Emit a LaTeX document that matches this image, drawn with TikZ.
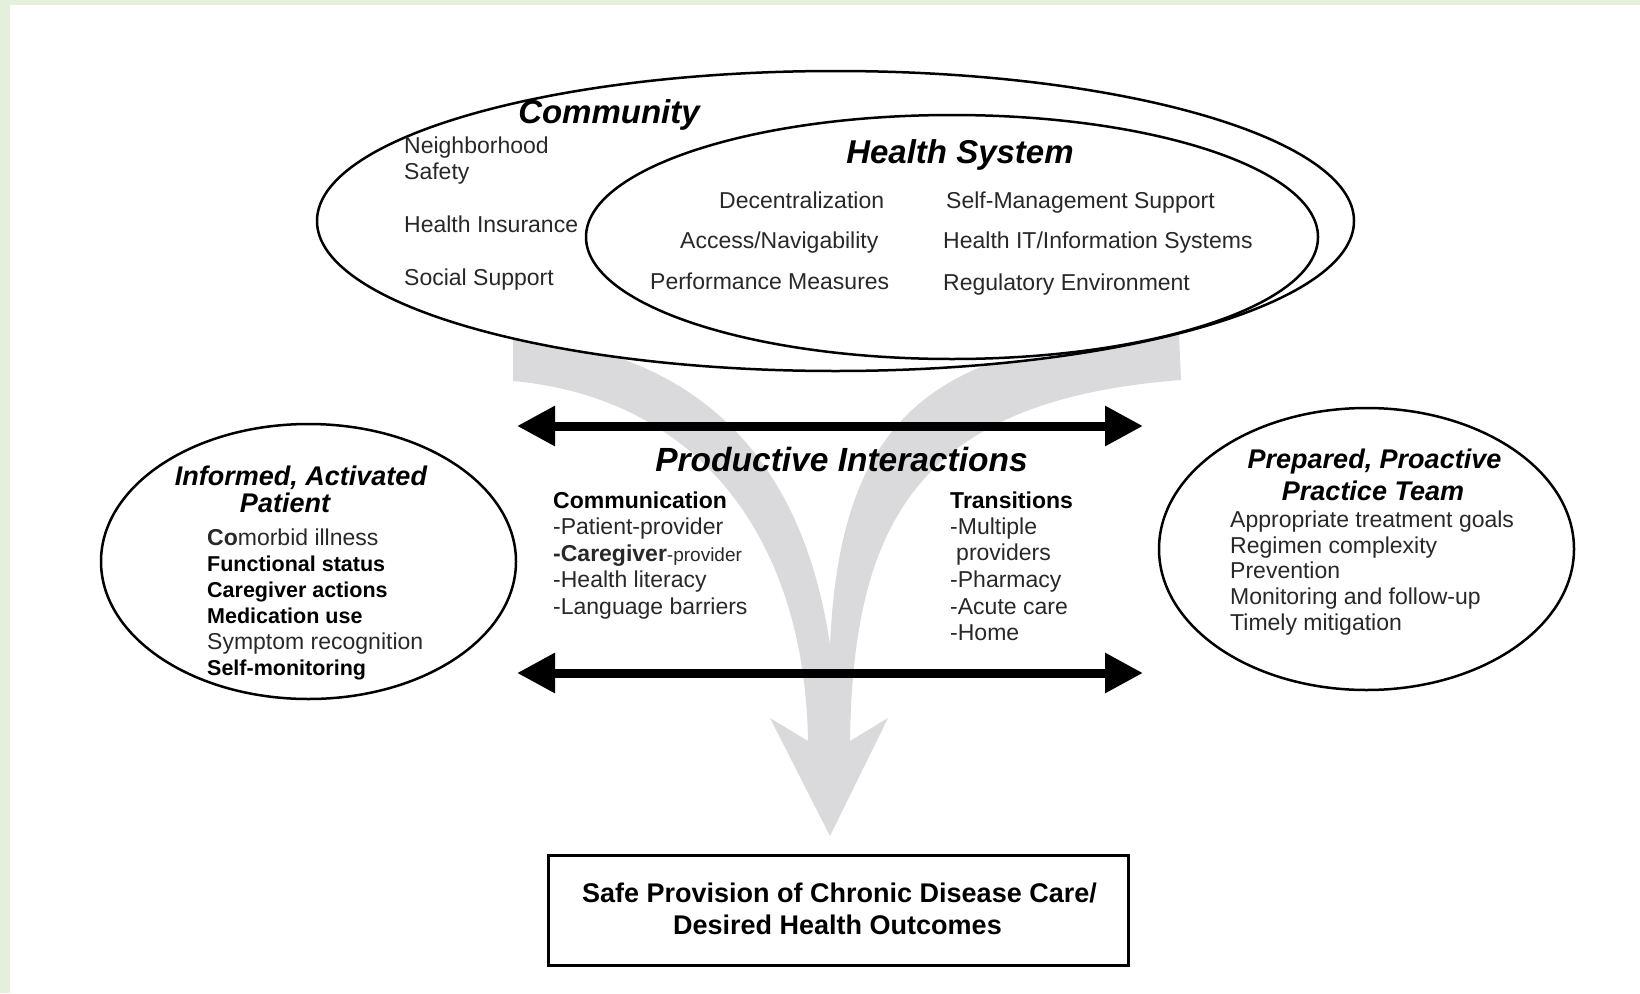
\documentclass[tikz,border=0pt]{standalone}
\usepackage{fontspec}
\setmainfont{Liberation Sans}
\usetikzlibrary{shapes.geometric,arrows.meta}

\definecolor{framegreen}{RGB}{229,240,220}
\definecolor{flowgrey}{RGB}{218,218,220}
\definecolor{itemgrey}{RGB}{40,40,40}

\tikzset{
  ring/.style={ellipse, draw=black, fill=white, line width=2.5pt, inner sep=0pt},
  heading/.style={anchor=base, inner sep=0pt, text=black,
    font=\bfseries\itshape\fontsize{33}{38}\selectfont},
  subheading/.style={anchor=base, inner sep=0pt, text=black,
    font=\bfseries\itshape\fontsize{27}{32}\selectfont},
  item/.style={anchor=base west, inner sep=0pt, text=itemgrey,
    font=\fontsize{23}{27}\selectfont},
  bolditem/.style={anchor=base west, inner sep=0pt, text=black,
    font=\bfseries\fontsize{21.5}{26}\selectfont},
  twoway/.style={line width=9pt,
    {Triangle[length=38pt,width=38pt]}-{Triangle[length=38pt,width=38pt]}},
  outcometext/.style={anchor=base, inner sep=0pt, text=black,
    font=\bfseries\fontsize{27}{32}\selectfont}
}

\begin{document}
\begin{tikzpicture}[x=1pt,y=-1pt]
\useasboundingbox (0,0) rectangle (1640,993);

% page background with a light green edge
\fill[framegreen] (0,0) rectangle (1640,993);
\fill[white] (10,5) rectangle (1640,993);

% grey converging flow arrow behind everything
\fill[flowgrey]
  (513,336) -- (513,381)
  .. controls (700,398) and (805,540) .. (808,741)
  -- (770,718) -- (830,836) -- (888,718) -- (850,741)
  .. controls (853,520) and (920,400) .. (1181,380)
  -- (1179,334)
  .. controls (930,340) and (840,420) .. (830,645)
  .. controls (800,440) and (680,350) .. (513,336)
  -- cycle;

% community and health system
\node[ring, minimum width=1037pt, minimum height=300pt] (community) at (835.5,221) {};
\node[ring, minimum width=732pt, minimum height=244pt] (health) at (952,237) {};

\node[heading] (communityTitle) at (609,123) {Community};
\node[item] (cNeigh) at (404,153) {Neighborhood};
\node[item] (cSafety) at (404,179) {Safety};
\node[item] (cInsur) at (404,232) {Health Insurance};
\node[item] (cSocial) at (404,285) {Social Support};

\node[heading] (healthTitle) at (960,163) {Health System};
\node[item] (hDecent) at (719,208) {Decentralization};
\node[item] (hAccess) at (680,248) {Access/Navigability};
\node[item] (hPerf) at (650,289) {Performance Measures};
\node[item] (hSelf) at (946,208) {Self-Management Support};
\node[item] (hIT) at (943,248) {Health IT/Information Systems};
\node[item] (hReg) at (943,290) {Regulatory Environment};

% patient and practice team
\node[ring, minimum width=415pt, minimum height=275pt] (patient) at (308.5,561.5) {};
\node[ring, minimum width=415pt, minimum height=282pt] (team) at (1366.5,549) {};

\node[subheading] (patientTitleA) at (301,485) {Informed, Activated};
\node[subheading] (patientTitleB) at (285,512) {Patient};
\node[item] (pComorbid) at (207,545) {\textbf{Co}morbid illness};
\node[bolditem] (pFunc) at (207,571) {Functional status};
\node[bolditem] (pCare) at (207,597) {Caregiver actions};
\node[bolditem] (pMed) at (207,623) {Medication use};
\node[item] (pSymp) at (207,649) {Symptom recognition};
\node[bolditem] (pSelf) at (207,675) {Self-monitoring};

\node[subheading] (teamTitleA) at (1374.5,468) {Prepared, Proactive};
\node[subheading] (teamTitleB) at (1373,500) {Practice Team};
\node[item] (tGoals) at (1230,527) {Appropriate treatment goals};
\node[item] (tRegimen) at (1230,553) {Regimen complexity};
\node[item] (tPrev) at (1230,578.5) {Prevention};
\node[item] (tMonitor) at (1230,604) {Monitoring and follow-up};
\node[item] (tTimely) at (1230,630) {Timely mitigation};

% productive interactions between the two sides
\coordinate (upperL) at (517,426);
\coordinate (upperR) at (1143,426);
\coordinate (lowerL) at (517,673);
\coordinate (lowerR) at (1143,673);
\draw[twoway] (upperL) -- (upperR);
\draw[twoway] (lowerL) -- (lowerR);

\node[heading, font=\bfseries\itshape\fontsize{33.5}{38}\selectfont] (interTitle) at (841.5,471) {Productive Interactions};

\node[item, text=black] (commHead) at (553,508) {\textbf{Communication}};
\node[item] (comm1) at (553,534.5) {-Patient-provider};
\node[item] (comm2) at (553,561) {\textbf{-Caregiver}{\fontsize{19}{23}\selectfont -provider}};
\node[item] (comm3) at (553,587.5) {-Health literacy};
\node[item] (comm4) at (553,614) {-Language barriers};

\node[item, text=black] (transHead) at (950,508) {\textbf{Transitions}};
\node[item] (trans1) at (950,534) {-Multiple};
\node[item] (trans1b) at (956,560.5) {providers};
\node[item] (trans2) at (950,587) {-Pharmacy};
\node[item] (trans3) at (950,614) {-Acute care};
\node[item] (trans4) at (950,640) {-Home};

% outcome box
\node[draw=black, line width=2.5pt, fill=white, minimum width=580pt, minimum height=110pt, inner sep=0pt] (outcome) at (838.5,910.5) {};
\node[outcometext] (outcomeA) at (839.5,902) {Safe Provision of Chronic Disease Care/};
\node[outcometext] (outcomeB) at (837.5,934) {Desired Health Outcomes};

\end{tikzpicture}
\end{document}
